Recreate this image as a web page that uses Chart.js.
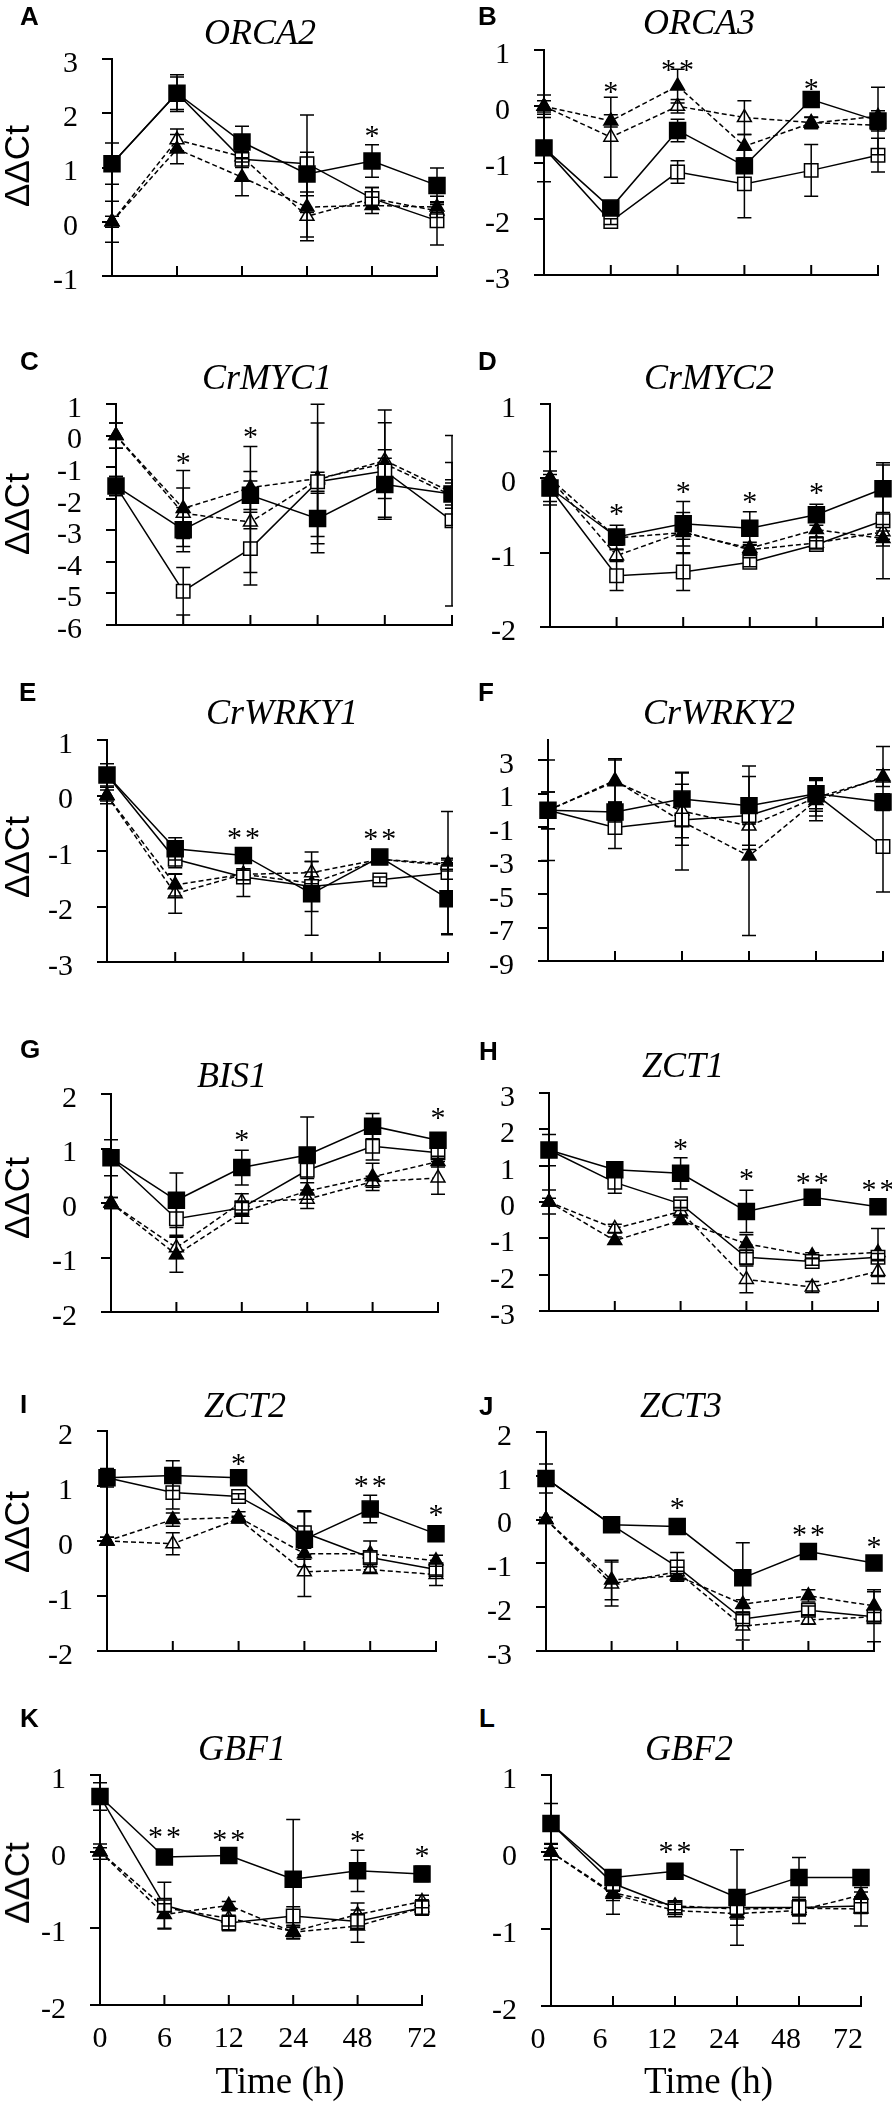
<!DOCTYPE html>
<html>
<head>
<meta charset="utf-8">
<script src="https://cdn.jsdelivr.net/npm/chart.js@4.4.0/dist/chart.umd.min.js"></script>
<style>
html, body { margin: 0; padding: 0; background: #fff; }
body { width: 892px; height: 2110px; position: relative; overflow: hidden; }
canvas { position: absolute; }
.lbl { position: absolute; transform: translate(-50%, -50%); white-space: nowrap; line-height: 1; color: #000; }
.gene { font: italic 36px "Liberation Serif", "Times New Roman", serif; }
.letter { position: absolute; font: bold 26px "Liberation Sans", Arial, sans-serif; line-height: 1; color: #000; }
.ylab { font: 35px "Liberation Sans", Arial, sans-serif; transform: translate(-50%, -50%) rotate(-90deg); }
.xlab { font: 37px "Liberation Serif", "Times New Roman", serif; }
</style>
</head>
<body>
<script>
// x categories (hours)
const timeLabels = ['0', '6', '12', '24', '48', '72'];
// series order in every panel: filled square, open square, filled triangle, open triangle
const seriesNames = ['filled square', 'open square', 'filled triangle', 'open triangle'];

// A  ORCA2
const orca2Ticks = [-1, 0, 1, 2, 3];
const orca2Means = [
    [1.07, 2.37, 1.47, 0.88, 1.12, 0.67],
    [1.07, 2.37, 1.15, 1.07, 0.43, 0.02],
    [0, 1.34, 0.82, 0.27, 0.30, 0.27],
    [0, 1.51, 1.20, 0.10, 0.43, 0.20]
];
const orca2Errs = [
    [0.38, 0.34, 0.29, 0.40, 0.30, 0.32],
    [0.10, 0.30, 0.15, 0.90, 0.20, 0.45],
    [0.38, 0.27, 0.34, 0.55, 0.15, 0.10],
    [0.10, 0.20, 0.10, 0.45, 0.20, 0.12]
];
const orca2Stars = [[4, '*', 1.65]];

// B  ORCA3
const orca3Ticks = [-3, -2, -1, 0, 1];
const orca3Means = [
    [-0.74, -1.81, -0.43, -1.06, 0.12, -0.26],
    [-0.74, -2.05, -1.17, -1.38, -1.14, -0.87],
    [0, -0.26, 0.36, -0.71, -0.30, -0.18],
    [0, -0.55, 0.00, -0.20, -0.29, -0.34]
];
const orca3Errs = [
    [0.60, 0.10, 0.20, 0.10, 0.10, 0.60],
    [0.10, 0.05, 0.20, 0.60, 0.46, 0.30],
    [0.20, 0.11, 0.30, 0.21, 0.10, 0.10],
    [0.10, 0.71, 0.12, 0.30, 0.10, 0.10]
];
const orca3Stars = [[1, '*', 0.32], [2, '**', 0.72], [4, '*', 0.38]];

// C  CrMYC1
const crmyc1Ticks = [-6, -5, -4, -3, -2, -1, 0, 1];
const crmyc1Means = [
    [-1.60, -2.98, -1.89, -2.63, -1.55, -1.85],
    [-1.60, -4.93, -3.58, -1.46, -1.12, -2.70],
    [0, -2.31, -1.65, -1.36, -0.89, -1.90],
    [0, -2.46, -2.74, -1.40, -0.79, -1.80]
];
const crmyc1Errs = [
    [0.30, 0.70, 0.45, 0.80, 1.10, 1.00],
    [0.30, 0.75, 1.15, 0.30, 0.40, 2.70],
    [0.40, 1.20, 1.30, 2.35, 1.70, 0.40],
    [0.40, 0.80, 1.60, 1.80, 1.20, 0.40]
];
const crmyc1Stars = [[1, '*', -0.74], [2, '*', 0.07]];

// D  CrMYC2
const crmyc2Ticks = [-2, -1, 0, 1];
const crmyc2Means = [
    [-0.13, -0.79, -0.61, -0.67, -0.49, -0.14],
    [-0.13, -1.31, -1.26, -1.13, -0.89, -0.57],
    [0, -0.80, -0.73, -0.94, -0.69, -0.81],
    [0, -1.04, -0.72, -0.96, -0.87, -0.72]
];
const crmyc2Errs = [
    [0.18, 0.16, 0.30, 0.22, 0.14, 0.32],
    [0.10, 0.20, 0.25, 0.06, 0.05, 0.78],
    [0.36, 0.10, 0.27, 0.08, 0.10, 0.10],
    [0.10, 0.08, 0.10, 0.06, 0.08, 0.10]
];
const crmyc2Stars = [[1, '*', -0.43], [2, '*', -0.13], [3, '*', -0.27], [4, '*', -0.15]];

// E  CrWRKY1
const crwrky1Ticks = [-3, -2, -1, 0, 1];
const crwrky1Means = [
    [0.37, -0.96, -1.08, -1.77, -1.11, -1.86],
    [0.37, -1.15, -1.47, -1.64, -1.52, -1.39],
    [0, -1.61, -1.42, -1.58, -1.15, -1.26],
    [0, -1.77, -1.42, -1.39, -1.15, -1.23]
];
const crwrky1Errs = [
    [0.20, 0.20, 0.10, 0.75, 0.10, 0.65],
    [0.10, 0.15, 0.35, 0.45, 0.05, 1.10],
    [0.15, 0.20, 0.10, 0.20, 0.05, 0.10],
    [0.10, 0.35, 0.10, 0.20, 0.05, 0.10]
];
const crwrky1Stars = [[2, '**', -0.69], [4, '**', -0.72]];

// F  CrWRKY2
const crwrky2Ticks = [-9, -7, -5, -3, -1, 1, 3];
const crwrky2Max = 4.2;
const crwrky2Means = [
    [0, -0.10, 0.67, 0.28, 0.99, 0.49],
    [0, -1.03, -0.58, -0.31, 0.94, -2.16],
    [0, 1.78, -0.67, -2.73, 0.58, 2.01],
    [0, 1.71, -0.04, -0.94, 0.76, 1.93]
];
const crwrky2Errs = [
    [1.10, 0.60, 1.60, 2.36, 0.90, 0.50],
    [0.20, 1.25, 1.50, 0.50, 1.00, 2.72],
    [3.00, 1.30, 2.90, 4.75, 1.20, 1.80],
    [1.10, 1.30, 1.60, 1.40, 1.10, 0.50]
];
const crwrky2Stars = [];

// G  BIS1
const bis1Ticks = [-2, -1, 0, 1, 2];
const bis1Means = [
    [0.83, 0.05, 0.65, 0.88, 1.41, 1.15],
    [0.83, -0.29, -0.09, 0.60, 1.04, 0.92],
    [0, -0.95, -0.17, 0.22, 0.48, 0.76],
    [0, -0.82, 0.02, 0.07, 0.39, 0.46]
];
const bis1Errs = [
    [0.33, 0.50, 0.32, 0.70, 0.23, 0.10],
    [0.10, 0.30, 0.10, 0.15, 0.25, 0.10],
    [0.10, 0.32, 0.20, 0.15, 0.25, 0.10],
    [0.10, 0.20, 0.15, 0.17, 0.10, 0.30]
];
const bis1Stars = [[2, '*', 1.23], [5, '*', 1.64]];

// H  ZCT1
const zct1Ticks = [-3, -2, -1, 0, 1, 2, 3];
const zct1Means = [
    [1.43, 0.89, 0.79, -0.26, 0.13, -0.13],
    [1.43, 0.54, -0.05, -1.52, -1.64, -1.52],
    [0, -1.06, -0.51, -1.15, -1.48, -1.39],
    [0, -0.73, -0.26, -2.13, -2.34, -1.91]
];
const zct1Errs = [
    [0.43, 0.10, 0.43, 0.58, 0.05, 0.05],
    [0.10, 0.30, 0.10, 0.20, 0.10, 0.10],
    [0.33, 0.10, 0.10, 0.25, 0.08, 0.66],
    [0.10, 0.12, 0.10, 0.37, 0.15, 0.33]
];
const zct1Stars = [[2, '*', 1.57], [3, '*', 0.75], [4, '**', 0.64], [5, '**', 0.44]];

// I  ZCT2
const zct2Ticks = [-2, -1, 0, 1, 2];
const zct2Means = [
    [1.15, 1.19, 1.15, 0.03, 0.58, 0.13],
    [1.15, 0.88, 0.81, 0.15, -0.30, -0.52],
    [0, 0.39, 0.43, -0.23, -0.23, -0.36],
    [0, -0.05, 0.40, -0.56, -0.52, -0.61]
];
const zct2Errs = [
    [0.17, 0.27, 0.05, 0.50, 0.25, 0.10],
    [0.10, 0.30, 0.05, 0.40, 0.10, 0.10],
    [0.07, 0.12, 0.10, 0.10, 0.23, 0.10],
    [0.07, 0.20, 0.05, 0.45, 0.05, 0.20]
];
const zct2Stars = [[2, '*', 1.48], [4, '**', 1.08], [5, '*', 0.54]];

// J  ZCT3
const zct3Ticks = [-3, -2, -1, 0, 1, 2];
const zct3Means = [
    [0.94, -0.12, -0.16, -1.33, -0.73, -0.99],
    [0.94, -0.12, -1.08, -2.27, -2.07, -2.22],
    [0, -1.38, -1.28, -1.93, -1.74, -1.97],
    [0, -1.47, -1.19, -2.43, -2.29, -2.22]
];
const zct3Errs = [
    [0.33, 0.10, 0.17, 0.80, 0.05, 0.05],
    [0.10, 0.10, 0.33, 0.10, 0.10, 0.57],
    [0.05, 0.45, 0.10, 0.10, 0.14, 0.37],
    [0.05, 0.50, 0.10, 0.32, 0.10, 0.10]
];
const zct3Stars = [[2, '*', 0.35], [4, '**', -0.27], [5, '*', -0.54]];

// K  GBF1
const gbf1Ticks = [-2, -1, 0, 1];
const gbf1Means = [
    [0.72, -0.07, -0.05, -0.36, -0.25, -0.29],
    [0.72, -0.70, -0.93, -0.84, -0.91, -0.73],
    [0, -0.82, -0.70, -1.05, -0.97, -0.73],
    [0, -0.73, -0.87, -1.04, -0.82, -0.65]
];
const gbf1Errs = [
    [0.18, 0.05, 0.05, 0.78, 0.27, 0.10],
    [0.10, 0.30, 0.10, 0.12, 0.10, 0.10],
    [0.10, 0.19, 0.05, 0.08, 0.21, 0.10],
    [0.05, 0.05, 0.10, 0.05, 0.15, 0.08]
];
const gbf1Stars = [[1, '**', 0.25], [2, '**', 0.21], [4, '*', 0.19], [5, '*', 0.0]];

// L  GBF2
const gbf2Ticks = [-2, -1, 0, 1];
const gbf2Means = [
    [0.37, -0.33, -0.25, -0.59, -0.33, -0.33],
    [0.37, -0.41, -0.72, -0.72, -0.72, -0.70],
    [0, -0.55, -0.76, -0.80, -0.76, -0.56],
    [0, -0.53, -0.70, -0.74, -0.73, -0.74]
];
const gbf2Errs = [
    [0.26, 0.05, 0.05, 0.62, 0.26, 0.05],
    [0.10, 0.10, 0.07, 0.15, 0.10, 0.10],
    [0.10, 0.26, 0.08, 0.15, 0.17, 0.10],
    [0.05, 0.10, 0.05, 0.10, 0.10, 0.22]
];
const gbf2Stars = [[2, '**', 0.05]];

const serifFamily = '"Liberation Serif", "Times New Roman", serif';

// marker / line look of the 4 series
const seriesStyle = [
    { pointStyle: 'rect', radius: 11.3, fill: '#000', dash: [] },
    { pointStyle: 'rect', radius: 9.5, fill: '#fff', dash: [] },
    { pointStyle: 'triangle', radius: 8, fill: '#000', dash: [5, 3] },
    { pointStyle: 'triangle', radius: 8, fill: '#fff', dash: [5, 3] }
];

// panel layout: plot area [left, top, right, bottom] in page pixels
const panels = [
    { letter: 'A', gene: 'ORCA2', means: orca2Means, errs: orca2Errs, stars: orca2Stars, ticks: orca2Ticks,
      area: [112, 47, 437, 288], side: 'L', title: [260, 32], letterPos: [20, 3], ylab: 166 },
    { letter: 'B', gene: 'ORCA3', means: orca3Means, errs: orca3Errs, stars: orca3Stars, ticks: orca3Ticks,
      area: [544, 38, 878, 287], side: 'R', title: [699, 22], letterPos: [478, 3] },
    { letter: 'C', gene: 'CrMYC1', means: crmyc1Means, errs: crmyc1Errs, stars: crmyc1Stars, ticks: crmyc1Ticks,
      area: [116, 392, 452, 637], side: 'L', title: [267, 377], letterPos: [20, 348], ylab: 514 },
    { letter: 'D', gene: 'CrMYC2', means: crmyc2Means, errs: crmyc2Errs, stars: crmyc2Stars, ticks: crmyc2Ticks,
      area: [550, 392, 883, 639], side: 'R', title: [709, 377], letterPos: [478, 348] },
    { letter: 'E', gene: 'CrWRKY1', means: crwrky1Means, errs: crwrky1Errs, stars: crwrky1Stars, ticks: crwrky1Ticks,
      area: [107, 728, 448, 974], side: 'L', title: [282, 712], letterPos: [19, 679], ylab: 857 },
    { letter: 'F', gene: 'CrWRKY2', means: crwrky2Means, errs: crwrky2Errs, stars: crwrky2Stars, ticks: crwrky2Ticks,
      yMax: crwrky2Max, area: [548, 728, 883, 973], side: 'R', title: [719, 712], letterPos: [478, 679] },
    { letter: 'G', gene: 'BIS1', means: bis1Means, errs: bis1Errs, stars: bis1Stars, ticks: bis1Ticks,
      area: [111, 1082, 438, 1324], side: 'L', title: [232, 1075], letterPos: [20, 1036], ylab: 1198 },
    { letter: 'H', gene: 'ZCT1', means: zct1Means, errs: zct1Errs, stars: zct1Stars, ticks: zct1Ticks,
      area: [549, 1081, 878, 1323], side: 'R', title: [683, 1065], letterPos: [479, 1038] },
    { letter: 'I', gene: 'ZCT2', means: zct2Means, errs: zct2Errs, stars: zct2Stars, ticks: zct2Ticks,
      area: [107, 1419, 436, 1663], side: 'L', title: [245, 1405], letterPos: [20, 1391], ylab: 1532 },
    { letter: 'J', gene: 'ZCT3', means: zct3Means, errs: zct3Errs, stars: zct3Stars, ticks: zct3Ticks,
      area: [546, 1420, 874, 1663], side: 'R', title: [681, 1405], letterPos: [479, 1393] },
    { letter: 'K', gene: 'GBF1', means: gbf1Means, errs: gbf1Errs, stars: gbf1Stars, ticks: gbf1Ticks,
      area: [100, 1763, 426, 2005], side: 'L', title: [242, 1748], letterPos: [20, 1705], ylab: 1883, timeAxis: 0 },
    { letter: 'L', gene: 'GBF2', means: gbf2Means, errs: gbf2Errs, stars: gbf2Stars, ticks: gbf2Ticks,
      area: [551, 1763, 876, 2006], side: 'R', title: [689, 1748], letterPos: [479, 1705], timeAxis: -13 }
];

function addText(cls, text, x, y) {
    const d = document.createElement('div');
    d.className = cls;
    d.textContent = text;
    d.style.left = x + 'px';
    d.style.top = y + 'px';
    document.body.appendChild(d);
    return d;
}

// error bars, inward x ticks and significance stars
function makeOverlay(p) {
    return {
        id: 'overlay',
        afterDatasetsDraw(chart) {
            const { ctx, chartArea } = chart;
            const x = chart.scales.x, y = chart.scales.y;
            ctx.save();
            ctx.strokeStyle = '#000';
            ctx.lineWidth = 1.5;
            const cap = 7;
            p.means.forEach((row, k) => {
                row.forEach((v, i) => {
                    const px = x.getPixelForValue(i);
                    const hi = y.getPixelForValue(v + p.errs[k][i]);
                    const lo = y.getPixelForValue(v - p.errs[k][i]);
                    ctx.beginPath();
                    ctx.moveTo(px, hi); ctx.lineTo(px, lo);
                    ctx.moveTo(px - cap, hi); ctx.lineTo(px + cap, hi);
                    ctx.moveTo(px - cap, lo); ctx.lineTo(px + cap, lo);
                    ctx.stroke();
                });
            });
            // x ticks point up into the plot
            ctx.lineWidth = 2;
            x.ticks.forEach((t, i) => {
                if (i === 0) return;
                const px = x.getPixelForTick(i);
                ctx.beginPath();
                ctx.moveTo(px, chartArea.bottom);
                ctx.lineTo(px, chartArea.bottom - 10);
                ctx.stroke();
            });
            ctx.fillStyle = '#000';
            ctx.font = '30px ' + serifFamily;
            ctx.textAlign = 'center';
            ctx.textBaseline = 'alphabetic';
            p.stars.forEach(([i, s, v]) => {
                const px = x.getPixelForValue(i);
                const py = y.getPixelForValue(v) + 13;
                if (s === '**') {
                    ctx.fillText('*', px - 9, py);
                    ctx.fillText('*', px + 9, py);
                } else {
                    ctx.fillText('*', px, py);
                }
            });
            ctx.restore();
        }
    };
}

panels.forEach(p => {
    const [aL, aT, aR, aB] = p.area;
    const cL = p.side === 'L' ? 0 : 455;
    const cR = p.side === 'L' ? 453 : 892;
    const cT = aT - 30;
    const hasTime = p.timeAxis !== undefined;
    const cB = aB + (hasTime ? 60 : 30);
    const cv = document.createElement('canvas');
    cv.width = cR - cL;
    cv.height = cB - cT;
    cv.style.left = cL + 'px';
    cv.style.top = cT + 'px';
    document.body.appendChild(cv);

    const datasets = p.means.map((row, k) => ({
        label: seriesNames[k],
        data: row,
        borderColor: '#000',
        borderWidth: 1.5,
        borderDash: seriesStyle[k].dash,
        pointStyle: seriesStyle[k].pointStyle,
        pointRadius: seriesStyle[k].radius,
        pointBackgroundColor: seriesStyle[k].fill,
        pointBorderColor: '#000',
        pointBorderWidth: 1.5,
        tension: 0,
        fill: false,
        clip: false
    }));

    new Chart(cv, {
        type: 'line',
        data: { labels: timeLabels, datasets: datasets },
        options: {
            responsive: false,
            animation: false,
            events: [],
            layout: { autoPadding: false, padding: { top: aT - cT, right: cR - aR, bottom: 0, left: 0 } },
            plugins: { legend: { display: false }, tooltip: { enabled: false } },
            scales: {
                x: {
                    offset: false,
                    grid: { display: true, drawOnChartArea: false, drawTicks: false },
                    border: { display: true, color: '#000', width: 2 },
                    ticks: {
                        display: hasTime, color: '#000', autoSkip: false, maxRotation: 0,
                        font: { family: serifFamily, size: 30 },
                        padding: 16, labelOffset: hasTime ? p.timeAxis : 0
                    },
                    afterFit: s => { s.height = cB - aB; }
                },
                y: {
                    min: p.ticks[0],
                    max: p.yMax !== undefined ? p.yMax : p.ticks[p.ticks.length - 1],
                    grid: { drawOnChartArea: false, drawTicks: true, tickLength: 10, color: '#000', lineWidth: 2 },
                    border: { display: true, color: '#000', width: 2 },
                    ticks: {
                        color: '#000', padding: 24, labelOffset: 5, autoSkip: false,
                        font: { family: serifFamily, size: 30 }
                    },
                    afterBuildTicks: s => { s.ticks = p.ticks.map(v => ({ value: v })); },
                    afterFit: s => { s.width = aL - cL; }
                }
            }
        },
        plugins: [makeOverlay(p)]
    });

    addText('lbl gene', p.gene, p.title[0], p.title[1]);
    const lt = document.createElement('div');
    lt.className = 'letter';
    lt.textContent = p.letter;
    lt.style.left = p.letterPos[0] + 'px';
    lt.style.top = p.letterPos[1] + 'px';
    document.body.appendChild(lt);
    if (p.ylab) addText('lbl ylab', 'ΔΔCt', 17, p.ylab);
    if (hasTime) addText('lbl xlab', 'Time (h)', (aL + aR) / 2 + (p.side === 'L' ? 17 : -5), 2080);
});
</script>
</body>
</html>
